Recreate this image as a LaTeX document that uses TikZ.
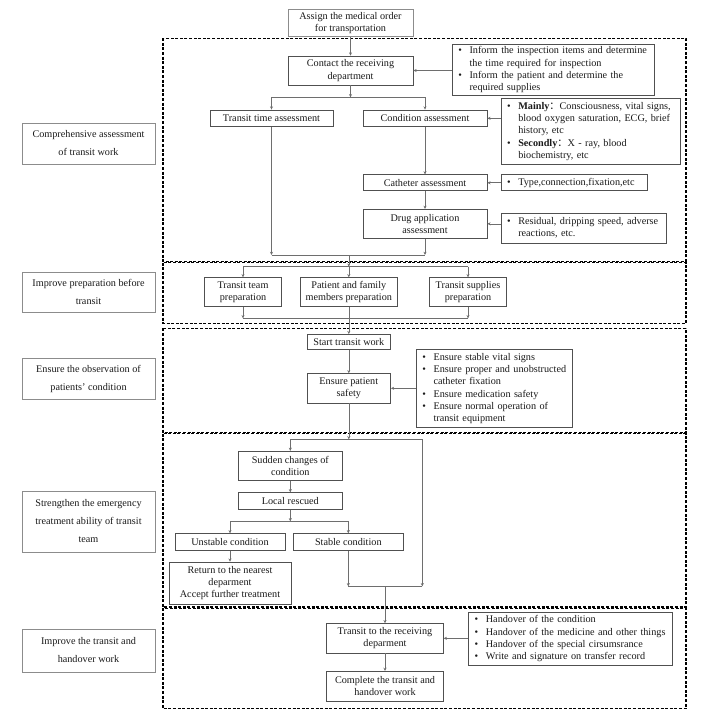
\documentclass[tikz,border=0pt]{standalone}
\usepackage{fontspec}
\setmainfont{Liberation Serif}
\newfontfamily\cjk{Noto Sans CJK SC}
\usetikzlibrary{arrows.meta}
\definecolor{boxc}{HTML}{505050}
\definecolor{lboxc}{HTML}{8C8C8C}
\definecolor{arrc}{HTML}{6E6E6E}
\definecolor{txtc}{HTML}{1A1A1A}
\newcommand{\mfs}{\fontsize{10.2}{12.3}\selectfont}
\newcommand{\lfs}{\fontsize{10.2}{18}\selectfont}
\newcommand{\bl}{\textbullet}
\newenvironment{blist}{\noindent\begin{tabular}{@{}l@{\hspace{7.6pt}}l@{}}}{\end{tabular}}
\begin{document}
\begin{tikzpicture}[x=1pt,y=-1pt,
  box/.style={draw=boxc, line width=0.8pt, inner sep=1pt, align=center, font=\mfs, text=txtc},
  lbox/.style={draw=lboxc, line width=0.6pt, inner sep=1pt, align=center, font=\lfs, text=txtc},
  tbox/.style={draw=lboxc, line width=0.7pt, inner sep=1pt, align=center, font=\mfs, text=txtc},
  bbox/.style={draw=boxc, line width=0.8pt, inner xsep=6pt, inner ysep=1pt, align=left, font=\mfs, text=txtc, anchor=west},
  frame/.style={draw=black, line width=1.1pt, dash pattern=on 3pt off 1.6pt},
  arr/.style={draw=arrc, line width=0.6pt, -{Stealth[length=3.2pt,width=3pt]}},
  ln/.style={draw=arrc, line width=0.6pt}]
\useasboundingbox[fill=white] (0,0) rectangle (708,714);

% section frames
\draw[frame] (163,38.3) rectangle (686,261.2);
\draw[frame] (163,262.5) rectangle (686,323.3);
\draw[frame] (163,328.3) rectangle (686,432.5);
\draw[frame] (163,433.6) rectangle (686,607);
\draw[frame] (163,608.2) rectangle (686,708.7);

% left labels
\node[lbox, minimum width=133pt, minimum height=41pt] (lcomp) at (88.5,143.5) {Comprehensive assessment\\of transit work};
\node[lbox, minimum width=133pt, minimum height=40pt] (lprep) at (88.5,292) {Improve preparation before\\transit};
\node[lbox, minimum width=133pt, minimum height=41pt] (lobs) at (88.5,378.5) {Ensure the observation of\\patients' condition};
\node[lbox, minimum width=133pt, minimum height=61pt] (lstr) at (88.5,521.5) {Strengthen the emergency\\treatment ability of transit\\team};
\node[lbox, minimum width=133pt, minimum height=43pt] (lhand) at (88.5,650.5) {Improve the transit and\\handover work};

% section 1
\node[tbox, minimum width=125pt, minimum height=27.5pt] (top) at (350.5,23) {Assign the medical order\\for transportation};
\node[box, minimum width=125pt, minimum height=29pt] (contact) at (350.5,70.5) {Contact the receiving\\department};
\node[bbox, text width=190pt, minimum height=46pt] (bul1) at (452,69.7) {\begin{blist}
\bl & Inform the inspection items and determine\\
 & the time required for inspection\\
\bl & Inform the patient and determine the\\
 & required supplies
\end{blist}};
\node[box, minimum width=123pt, minimum height=16.7pt] (ttime) at (271.5,118.3) {Transit time assessment};
\node[box, minimum width=124pt, minimum height=16.7pt] (cond) at (425,118.3) {Condition assessment};
\node[bbox, text width=167.3pt, minimum height=66pt] (bul2) at (500.7,131.3) {\begin{blist}
\bl & \textbf{Mainly}{\cjk ：}Consciousness, vital signs,\\
 & blood oxygen saturation, ECG, brief\\
 & history, etc\\
\bl & \textbf{Secondly}{\cjk ：}X - ray, blood\\
 & biochemistry, etc
\end{blist}};
\node[box, minimum width=124pt, minimum height=16pt] (cath) at (425,182.8) {Catheter assessment};
\node[bbox, text width=134.3pt, minimum height=16pt] (bul3) at (500.7,182.8) {\begin{blist}
\bl & Type,connection,fixation,etc
\end{blist}};
\node[box, minimum width=124pt, minimum height=29pt] (drug) at (425,223.8) {Drug application\\assessment};
\node[bbox, text width=153.3pt, minimum height=30pt] (bul4) at (500.7,228.3) {\begin{blist}
\bl & Residual, dripping speed, adverse\\
 & reactions, etc.
\end{blist}};

\draw[arr] (top) -- (contact);
\draw[arr] (bul1.west |- contact.east) -- (contact.east);
\coordinate (b1) at (350.5,97.3);
\draw[arr] (contact.south) -- (b1);
\draw[ln] (ttime.north |- b1) -- (cond.north |- b1);
\draw[arr] (ttime.north |- b1) -- (ttime.north);
\draw[arr] (cond.north |- b1) -- (cond.north);
\draw[arr] (bul2.west |- cond.east) -- (cond.east);
\draw[arr] (cond) -- (cath);
\draw[arr] (bul3.west |- cath.east) -- (cath.east);
\draw[arr] (cath) -- (drug);
\draw[arr] (bul4.west |- drug.east) -- (drug.east);
\coordinate (m1) at (348.8,255);
\draw[arr] (ttime.south) -- (ttime.south |- m1);
\draw[arr] (drug.south) -- (drug.south |- m1);
\draw[ln] (ttime.south |- m1) -- (drug.south |- m1);

% section 2
\node[box, minimum width=77.7pt, minimum height=29pt] (team) at (243,292.2) {Transit team\\preparation};
\node[box, minimum width=97.7pt, minimum height=29pt] (patient) at (348.8,292.2) {Patient and family\\members preparation};
\node[box, minimum width=77.7pt, minimum height=29pt] (supplies) at (468,292.2) {Transit supplies\\preparation};
\coordinate (b2) at (348.8,266.7);
\draw[arr] (m1) -- (b2);
\draw[ln] (team.north |- b2) -- (supplies.north |- b2);
\draw[arr] (team.north |- b2) -- (team.north);
\draw[arr] (b2) -- (patient.north);
\draw[arr] (supplies.north |- b2) -- (supplies.north);
\coordinate (m2) at (348.8,318.3);
\draw[arr] (team.south) -- (team.south |- m2);
\draw[arr] (supplies.south) -- (supplies.south |- m2);
\draw[ln] (team.south |- m2) -- (supplies.south |- m2);

% section 3
\node[box, minimum width=83pt, minimum height=15pt] (start) at (348.8,342) {Start transit work};
\node[box, minimum width=83.3pt, minimum height=29.3pt] (safety) at (348.8,388.3) {Ensure patient\\safety};
\node[bbox, text width=143.8pt, minimum height=78pt] (bul5) at (416,388.6) {\begin{blist}
\bl & Ensure stable vital signs\\
\bl & Ensure proper and unobstructed\\
 & catheter fixation\\
\bl & Ensure medication safety\\
\bl & Ensure normal operation of\\
 & transit equipment
\end{blist}};
\draw[arr] (patient.south) -- (start.north);
\draw[arr] (start) -- (safety);
\draw[arr] (bul5.west |- safety.east) -- (safety.east);

% section 4
\node[box, minimum width=104pt, minimum height=29pt] (sudden) at (290.3,465.8) {Sudden changes of\\condition};
\node[box, minimum width=104pt, minimum height=16.6pt] (local) at (290.3,501) {Local rescued};
\node[box, minimum width=110pt, minimum height=16.6pt] (unstable) at (230,542) {Unstable condition};
\node[box, minimum width=110pt, minimum height=16.6pt] (stable) at (348.3,542) {Stable condition};
\node[box, minimum width=122pt, minimum height=42.3pt] (ret) at (230,583.2) {Return to the nearest\\deparment\\Accept further treatment};
\coordinate (b4) at (348.8,439.3);
\coordinate (r4) at (422.3,439.3);
\draw[arr] (safety.south) -- (b4);
\draw[ln] (sudden.north |- b4) -- (r4);
\draw[arr] (sudden.north |- b4) -- (sudden.north);
\draw[arr] (sudden) -- (local);
\coordinate (b5) at (290.3,521.3);
\draw[arr] (local.south) -- (b5);
\draw[ln] (unstable.north |- b5) -- (stable.north |- b5);
\draw[arr] (unstable.north |- b5) -- (unstable.north);
\draw[arr] (stable.north |- b5) -- (stable.north);
\draw[arr] (unstable) -- (ret);
\coordinate (m4) at (385,586.3);
\coordinate (r5) at (422.3,586.3);
\draw[arr] (stable.south) -- (stable.south |- m4);
\draw[arr] (r4) -- (r5);
\draw[ln] (stable.south |- m4) -- (r5);

% section 5
\node[box, minimum width=116.6pt, minimum height=29.3pt] (transit) at (385,638.3) {Transit to the receiving\\deparment};
\node[box, minimum width=116.6pt, minimum height=29.7pt] (complete) at (385,686.2) {Complete the transit and\\handover work};
\node[bbox, text width=191.5pt, minimum height=53.3pt] (bul6) at (468.3,638.7) {\begin{blist}
\bl & Handover of the condition\\
\bl & Handover of the medicine and other things\\
\bl & Handover of the special cirsumsrance\\
\bl & Write and signature on transfer record
\end{blist}};
\draw[arr] (m4) -- (transit.north);
\draw[arr] (bul6.west |- transit.east) -- (transit.east);
\draw[arr] (transit) -- (complete);
\end{tikzpicture}
\end{document}
